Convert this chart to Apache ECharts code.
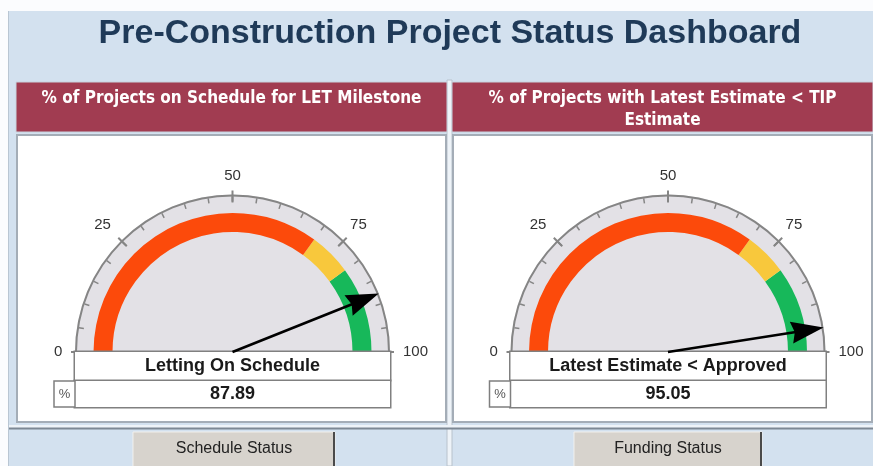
<!DOCTYPE html>
<html><head><meta charset="utf-8">
<script src="https://cdn.jsdelivr.net/npm/echarts@6/dist/echarts.min.js"></script>
<style>html,body{margin:0;padding:0;background:#fbfcfe}#c{width:873px;height:466px}</style>
</head><body><div id="c"></div>
<script>
// ---- data ----
const dashboardTitle = 'Pre-Construction Project Status Dashboard';
const panelHeaders = ['% of Projects on Schedule for LET Milestone', '% of Projects with Latest Estimate < TIP\nEstimate'];
const gaugeNames = ['Letting On Schedule', 'Latest Estimate < Approved'];
const gaugeValues = [87.89, 95.05];
const buttonLabels = ['Schedule Status', 'Funding Status'];
const tickLabels = [0, 25, 50, 75, 100];
const bandStops = [70, 80, 100];
const bandColors = ['#fc4a0b', '#f8c83c', '#17b85a'];

// ---- layout ----
const panels = [{x: 16, w: 431, cx: 232.5}, {x: 452, w: 421, cx: 668}];
const buttons = [{x: 133, w: 202}, {x: 574, w: 188}];
const CY = 352, R = 157.5, BAND_R = 139, BAND_W = 19;
const FONT = "'Liberation Sans', Arial, sans-serif";
const NARROW = "'Liberation Sans Narrow', 'DejaVu Sans Condensed', sans-serif";
// per-label nudges (padding) so tick labels sit where the original places them
const labelPad = {0: [0, 0, 0, 17], 25: [23, 0, 0, 0], 50: [12, 0, 0, 0], 75: [23, 4, 0, 0], 100: [0, 0, 0, 0]};

const chart = echarts.init(document.getElementById('c'), null, {renderer: 'canvas'});
const graphic = [];
graphic.push({type: 'rect', z: -10, shape: {x: 8, y: 11, width: 865, height: 455}, style: {fill: '#d3e1ef'}});
graphic.push({type: 'line', z: -9, shape: {x1: 8.5, y1: 11, x2: 8.5, y2: 466}, style: {stroke: '#b9c6d3', lineWidth: 1}});
graphic.push({type: 'text', style: {text: dashboardTitle, x: 450, y: 34, align: 'center', verticalAlign: 'middle',
  font: 'bold 34px ' + FONT, fill: '#1f3a58'}});
graphic.push({type: 'rect', z: -8, shape: {x: 447, y: 80, width: 5, height: 386}, style: {fill: '#eef3f8', stroke: '#b8c2cc', lineWidth: 1}});
graphic.push({type: 'rect', z: -8, shape: {x: 9, y: 425, width: 864, height: 3}, style: {fill: '#eef3f8'}});
graphic.push({type: 'line', z: -7, shape: {x1: 9, y1: 428.5, x2: 873, y2: 428.5}, style: {stroke: '#7d8894', lineWidth: 2}});
panels.forEach((p, i) => {
  graphic.push({type: 'rect', z: -8, shape: {x: p.x, y: 82, width: p.w, height: 50}, style: {fill: '#a13c51', stroke: '#c9d3de', lineWidth: 1}});
  graphic.push({type: 'rect', z: -8, shape: {x: p.x + 1, y: 135, width: p.w - 2, height: 287}, style: {fill: '#ffffff', stroke: '#a4adb7', lineWidth: 2}});
  graphic.push({type: 'text', z: 5, style: {text: panelHeaders[i], x: p.x + p.w / 2, y: i === 0 ? 99 : 110,
    align: 'center', verticalAlign: 'middle', lineHeight: 22, font: 'bold 17px ' + NARROW, fill: '#ffffff'}});
  graphic.push({type: 'rect', z: 5, shape: {x: p.cx - R - 21, y: 381, width: 21, height: 26}, style: {fill: '#ffffff', stroke: '#7f7f7f', lineWidth: 1.5}});
  graphic.push({type: 'text', z: 6, style: {text: '%', x: p.cx - R - 10.5, y: 394, align: 'center', verticalAlign: 'middle', font: '13px ' + FONT, fill: '#555'}});
  const b = buttons[i];
  graphic.push({type: 'rect', z: 5, shape: {x: b.x, y: 432, width: b.w, height: 36}, style: {fill: '#d7d3cd', stroke: '#f2f0ec', lineWidth: 1}});
  graphic.push({type: 'polyline', z: 6, shape: {points: [[b.x + b.w - 1, 432], [b.x + b.w - 1, 466]]}, style: {stroke: '#4a4a4a', lineWidth: 2}});
  graphic.push({type: 'text', z: 7, style: {text: buttonLabels[i], x: b.x + b.w / 2, y: 449, align: 'center', verticalAlign: 'middle', font: '16px ' + FONT, fill: '#222'}});
});

const bandAxis = bandStops.map((s, k) => [s / 100, bandColors[k]]);
const rich = {};
tickLabels.forEach(t => { rich['t' + t] = {padding: labelPad[t], fontSize: 15, fontFamily: FONT, color: '#333'}; });
const series = [];
panels.forEach((p, i) => {
  const common = {type: 'gauge', center: [p.cx, CY], startAngle: 180, endAngle: 0, min: 0, max: 100, animation: false,
    axisTick: {show: false}, splitLine: {show: false}, axisLabel: {show: false}, pointer: {show: false},
    title: {show: false}, detail: {show: false}};
  series.push(Object.assign({}, common, {radius: R, z: 1,
    axisLine: {lineStyle: {width: R, color: [[1, '#e3e1e6']]}}, data: [{value: 0}]}));
  series.push(Object.assign({}, common, {radius: BAND_R, z: 2,
    axisLine: {lineStyle: {width: BAND_W, color: bandAxis}}, data: [{value: 0}]}));
  series.push(Object.assign({}, common, {radius: R, z: 3, splitNumber: tickLabels.length - 1,
    axisLine: {lineStyle: {width: 2, color: [[1, '#858585']]}},
    axisTick: {show: true, splitNumber: 5, length: 5, distance: 0, lineStyle: {color: '#858585', width: 1.5}},
    splitLine: {show: true, length: 12, distance: -6, lineStyle: {color: '#858585', width: 2}},
    axisLabel: {show: true, distance: -44, color: '#333', fontSize: 15, fontFamily: FONT, rich: rich,
      formatter: v => { const t = Math.round(v); return '{t' + t + '|' + t + '}'; }},
    pointer: {show: true, icon: 'path://M11 0 L22 33 L12.3 30 L12.3 160 L9.7 160 L9.7 30 L0 33 Z', length: '100%', width: 22,
      itemStyle: {color: '#000'}},
    anchor: {show: false},
    title: {show: true, offsetCenter: [0, 14], fontSize: 18, fontWeight: 'bold', fontFamily: FONT, color: '#1a1a1a', padding: 0,
      backgroundColor: '#fff', borderColor: '#808080', borderWidth: 1.5, width: 2 * R, height: 28, lineHeight: 28, align: 'center', verticalAlign: 'middle'},
    detail: {show: true, offsetCenter: [0, 42], fontSize: 18, fontWeight: 'bold', fontFamily: FONT, color: '#1a1a1a', padding: 0,
      backgroundColor: '#fff', borderColor: '#808080', borderWidth: 1.5, width: 2 * R, height: 26, lineHeight: 26, align: 'center', verticalAlign: 'middle',
      formatter: v => v.toFixed(2)},
    data: [{value: gaugeValues[i], name: gaugeNames[i]}]}));
});

chart.setOption({backgroundColor: 'transparent', animation: false, graphic: graphic, series: series});
</script></body></html>
